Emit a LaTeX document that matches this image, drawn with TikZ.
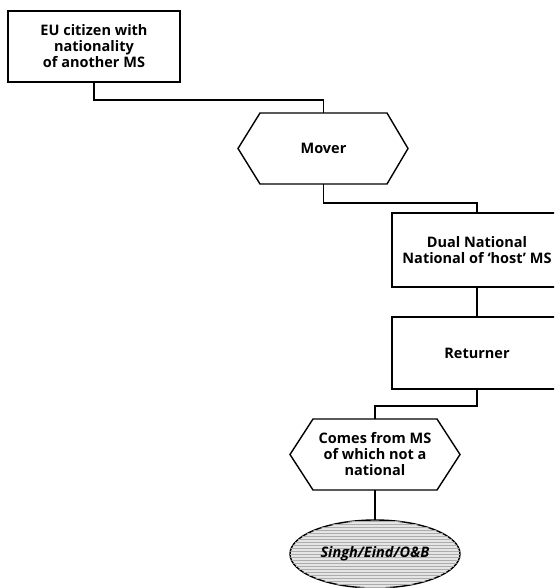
\documentclass[tikz,border=0pt]{standalone}
\usepackage{fontspec}
\setmainfont{Open Sans}
\usetikzlibrary{shapes.geometric,patterns}
\begin{document}
\begin{tikzpicture}[x=1pt,y=-1pt,
  lw/.style={line width=1.4pt},
  txt/.style={font=\bfseries\fontsize{14.5}{16}\selectfont},
  boxnode/.style={lw,draw,minimum width=172,minimum height=71,align=center,outer sep=0pt,txt},
  hexnode/.style={minimum height=71,align=center,outer sep=0pt,inner sep=0pt,txt},
  conn/.style={lw},
  ovalnode/.style={lw,draw,ellipse,minimum width=170,minimum height=68,fill=gray!20,
     postaction={pattern=horizontal lines,pattern color=gray!65},outer sep=0pt,
     font=\bfseries\itshape\fontsize{14.5}{16}\selectfont}]
\useasboundingbox (0,0) rectangle (554,588);
\clip (0,0) rectangle (554,588);
\node[boxnode] (eu) at (94,46.5) {EU citizen with\\nationality\\of another MS};
\node[hexnode,minimum width=127] (mover) at (323.5,148.5) {Mover};
\draw[lw] (mover.north west) -- (mover.north east) -- ([xshift=21pt]mover.east) -- (mover.south east)
  -- (mover.south west) -- ([xshift=-22pt]mover.west) -- cycle;
\node[boxnode,minimum width=170,minimum height=74] (dual) at (477,250) {Dual National\\National of ‘host’ MS};
\node[boxnode,minimum width=170,minimum height=72] (ret) at (477,353) {Returner};
\node[hexnode,minimum width=124] (comes) at (375,454.5) {Comes from MS\\of which not a\\national};
\draw[lw] (comes.north west) -- (comes.north east) -- ([xshift=23pt]comes.east) -- (comes.south east)
  -- (comes.south west) -- ([xshift=-23pt]comes.west) -- cycle;
\node[ovalnode] (singh) at (375,554) {Singh/Eind/O\&B};
\draw[conn] (eu.south) -- ++(0,18) -| (mover.north);
\draw[conn] (mover.south) -- ++(0,19) -| (dual.north);
\draw[conn] (dual.south) -- (ret.north);
\draw[conn] (ret.south) -- ++(0,17) -| (comes.north);
\draw[conn] (comes.south) -- (singh.north);
\end{tikzpicture}
\end{document}
